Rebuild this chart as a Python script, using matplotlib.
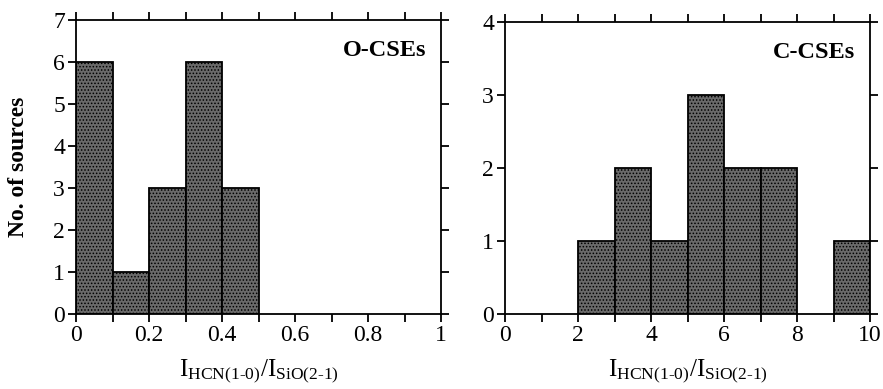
import matplotlib.pyplot as plt
from matplotlib.ticker import MultipleLocator
import numpy as np

plt.rcParams['font.family'] = ['Liberation Serif', 'DejaVu Serif']
plt.rcParams['mathtext.fontset'] = 'custom'
plt.rcParams['mathtext.rm'] = 'Liberation Serif'
plt.rcParams['mathtext.it'] = 'Liberation Serif'
plt.rcParams['hatch.color'] = '#1a1a1a'
plt.rcParams['hatch.linewidth'] = 0.7

# O-rich CSEs
o_edges = [0.0, 0.1, 0.2, 0.3, 0.4]
o_counts = [6, 1, 3, 6, 3]
o_width = 0.1

# C-rich CSEs
c_edges = [2, 3, 4, 5, 6, 7, 9]
c_counts = [1, 2, 1, 3, 2, 2, 1]
c_width = 1

xlabel = r'$\mathrm{I}_{\mathrm{HCN(1\text{-}0)}}/\mathrm{I}_{\mathrm{SiO(2\text{-}1)}}$'

fig = plt.figure(figsize=(8.83, 3.89), dpi=100)
ax1 = fig.add_axes([76/883, 1-314/389, 365/883, 294/389])
ax2 = fig.add_axes([505/883, 1-314/389, 365/883, 292/389])


def style(ax, xmax, ymax, xmajor, xminor, label):
    ax.set_xlim(0, xmax)
    ax.set_ylim(0, ymax)
    ax.xaxis.set_major_locator(MultipleLocator(xmajor))
    ax.xaxis.set_minor_locator(MultipleLocator(xminor))
    ax.yaxis.set_major_locator(MultipleLocator(1))
    ax.tick_params(which='both', direction='out', top=True, right=True,
                   width=1.3, labelsize=17, pad=2)
    ax.tick_params(which='major', length=6)
    ax.tick_params(which='minor', length=6)
    for s in ax.spines.values():
        s.set_linewidth(1.3)
    ax.set_xlabel(xlabel, fontsize=18, labelpad=8)
    ax.text(0.96, 0.895, label, transform=ax.transAxes, ha='right',
            va='center', fontsize=17.5, fontweight='bold')


ax1.bar(o_edges, o_counts, width=o_width, align='edge', facecolor='#6a6a6a',
        edgecolor='black', linewidth=1.3, hatch='.....')
ax2.bar(c_edges, c_counts, width=c_width, align='edge', facecolor='#6a6a6a',
        edgecolor='black', linewidth=1.3, hatch='.....')

style(ax1, 1, 7, 0.2, 0.1, 'O-CSEs')
style(ax2, 10, 4, 2, 1, 'C-CSEs')
ax1.xaxis.set_major_formatter(plt.FuncFormatter(lambda v, p: '%g' % v))

ax1.set_ylabel('No. of sources', fontsize=17, fontweight='bold', labelpad=17)

fig.savefig('out.png', dpi=100)
